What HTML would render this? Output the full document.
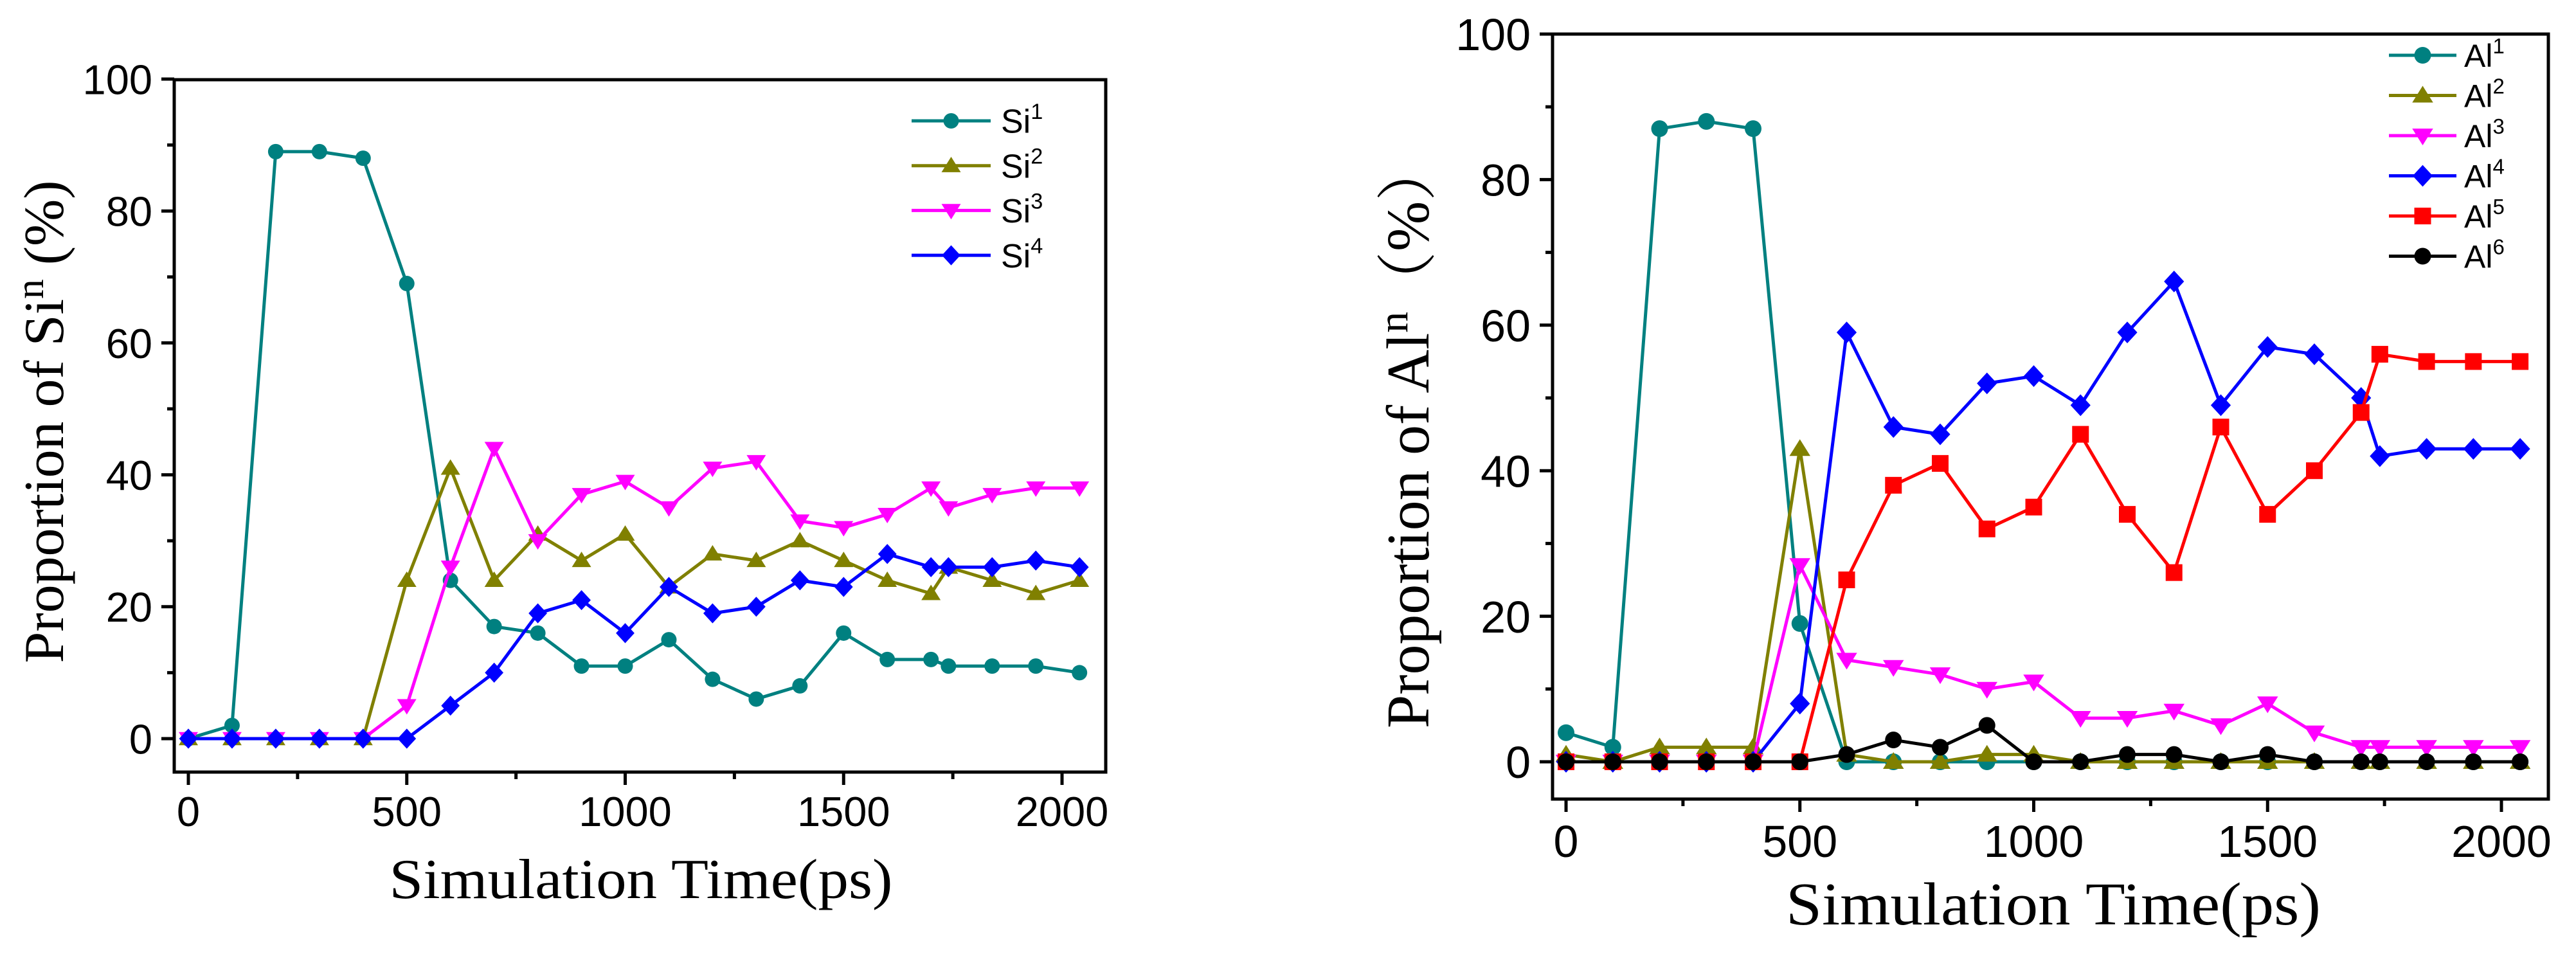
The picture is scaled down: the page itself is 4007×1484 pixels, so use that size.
<!DOCTYPE html>
<html><head><meta charset="utf-8"><style>
html,body{margin:0;padding:0;background:#fff;}
svg{display:block;}
</style></head><body>
<svg id="chart" width="4007" height="1484" viewBox="0 0 4007 1484" xmlns="http://www.w3.org/2000/svg">
<rect width="4007" height="1484" fill="#fff"/>
<g id="left"></g>
<g id="right"></g>
</svg>
<script>
const timeValues = [0,100,200,300,400,500,600,700,800,900,1000,1100,1200,1300,1400,1500,1600,1700,1740,1840,1940,2040];
const si1 = [0,2,89,89,88,69,24,17,16,11,11,15,9,6,8,16,12,12,11,11,11,10];
const si2 = [0,0,0,0,0,24,41,24,31,27,31,23,28,27,30,27,24,22,26,24,22,24];
const si3 = [0,0,0,0,0,5,26,44,30,37,39,35,41,42,33,32,34,38,35,37,38,38];
const si4 = [0,0,0,0,0,0,5,10,19,21,16,23,19,20,24,23,28,26,26,26,27,26];
const al1 = [4,2,87,88,87,19,0,0,0,0,0,0,0,0,0,0,0,0,0,0,0,0];
const al2 = [1,0,2,2,2,43,1,0,0,1,1,0,0,0,0,0,0,0,0,0,0,0];
const al3 = [0,0,0,0,0,27,14,13,12,10,11,6,6,7,5,8,4,2,2,2,2,2];
const al4 = [0,0,0,0,0,8,59,46,45,52,53,49,59,66,49,57,56,50,42,43,43,43];
const al5 = [0,0,0,0,0,0,25,38,41,32,35,45,34,26,46,34,40,48,56,55,55,55];
const al6 = [0,0,0,0,0,0,1,3,2,5,0,0,1,1,0,1,0,0,0,0,0,0];
const xTicks = [0,500,1000,1500,2000];
const xMinor = [250,750,1250,1750];
const yTicks = [0,20,40,60,80,100];
const yMinor = [10,30,50,70,90];

const NS='http://www.w3.org/2000/svg';
function mk(tag, attrs, parent){
  const e=document.createElementNS(NS,tag);
  for(const k in attrs) e.setAttribute(k,attrs[k]);
  parent.appendChild(e); return e;
}
function marker(g, type, cx, cy, s, color){
  let e;
  if(type==='circle') e=mk('circle',{cx:cx,cy:cy,r:s,fill:color},g);
  else if(type==='up') e=mk('polygon',{points:`${cx},${cy-s*1.15} ${cx-s*1.25},${cy+s*0.85} ${cx+s*1.25},${cy+s*0.85}`,fill:color},g);
  else if(type==='down') e=mk('polygon',{points:`${cx},${cy+s*1.15} ${cx-s*1.25},${cy-s*0.85} ${cx+s*1.25},${cy-s*0.85}`,fill:color},g);
  else if(type==='diamond') e=mk('polygon',{points:`${cx},${cy-s*1.3} ${cx+s*1.2},${cy} ${cx},${cy+s*1.3} ${cx-s*1.2},${cy}`,fill:color},g);
  else e=mk('rect',{x:cx-s,y:cy-s,width:2*s,height:2*s,fill:color},g);
  return e;
}
function drawChart(g, cfg){
  const X=v=>cfg.x0+(v/2000)*(cfg.x2000-cfg.x0);
  const Y=v=>cfg.y0-(v/100)*(cfg.y0-cfg.y100);
  const fr=mk('rect',{x:cfg.left,y:cfg.top,width:cfg.right-cfg.left,height:cfg.bottom-cfg.top,fill:'none',stroke:'#000','stroke-width':5},g);
  
  
  yTicks.forEach(v=>{
    const t=mk('line',{x1:cfg.left-20,x2:cfg.left,y1:Y(v),y2:Y(v),stroke:'#000','stroke-width':5},g);
    
    
    const l=mk('text',{x:cfg.left-34,y:Y(v)+cfg.tf*0.36,'text-anchor':'end','font-size':cfg.tf,'font-family':'Liberation Sans, sans-serif'},g);
    l.textContent=v;
    
    
  });
  yMinor.forEach(v=>{
    const t=mk('line',{x1:cfg.left-11,x2:cfg.left,y1:Y(v),y2:Y(v),stroke:'#000','stroke-width':5},g);
    
    
  });
  xTicks.forEach(v=>{
    const t=mk('line',{x1:X(v),x2:X(v),y1:cfg.bottom,y2:cfg.bottom+20,stroke:'#000','stroke-width':5},g);
    
    
    const l=mk('text',{x:X(v),y:cfg.xlabY,'text-anchor':'middle','font-size':cfg.tf,'font-family':'Liberation Sans, sans-serif'},g);
    l.textContent=v;
    
    
  });
  xMinor.forEach(v=>{
    const t=mk('line',{x1:X(v),x2:X(v),y1:cfg.bottom,y2:cfg.bottom+11,stroke:'#000','stroke-width':5},g);
    
    
  });
  cfg.series.forEach((s,i)=>{
    const sg=mk('g',{},g);
    
    
    const pts=timeValues.map((t,j)=>X(t)+','+Y(s.data[j])).join(' ');
    mk('polyline',{points:pts,fill:'none',stroke:s.color,'stroke-width':5,'stroke-linejoin':'round'},sg);
    timeValues.forEach((t,j)=>{
      const m=marker(sg,s.type,X(t),Y(s.data[j]),cfg.ms,s.color);
      
      
    });
    const ly=cfg.legY0+i*cfg.legDy;
    const lg=mk('g',{},g);
    
    
    mk('line',{x1:cfg.legX1,x2:cfg.legX2,y1:ly,y2:ly,stroke:s.color,'stroke-width':5},lg);
    marker(lg,s.type,(cfg.legX1+cfg.legX2)/2,ly,cfg.ms,s.color);
    const tx=mk('text',{x:cfg.legTX,y:ly+cfg.lf*0.36,'font-size':cfg.lf,'font-family':'Liberation Sans, sans-serif'},lg);
    tx.textContent=s.name;
    const sup=mk('tspan',{'font-size':cfg.lf*0.66,dy:-cfg.lf*0.42},tx);
    sup.textContent=s.sup;
  });
  const xt=mk('text',{x:cfg.xtX,y:cfg.xtY,'text-anchor':'middle','font-size':cfg.titleF,'font-family':'Liberation Serif, serif',textLength:cfg.xtLen,lengthAdjust:'spacingAndGlyphs'},g);
  xt.textContent='Simulation Time(ps)';
  
  
  const yt=mk('text',{x:0,y:0,'text-anchor':'middle','font-size':cfg.titleF,'font-family':'Liberation Serif, Noto Serif CJK SC, serif',transform:`translate(${cfg.ytX},${cfg.ytY}) rotate(-90)`,textLength:cfg.ytLen,lengthAdjust:'spacingAndGlyphs'},g);
  
  
  yt.appendChild(document.createTextNode(cfg.ytA));
  const ys=mk('tspan',{'font-size':cfg.titleF*0.7,dy:-cfg.titleF*0.35},yt); ys.textContent='n';
  const yr=mk('tspan',{dy:cfg.titleF*0.35},yt); yr.textContent=cfg.ytB;
}
drawChart(document.getElementById('left'),{
  left:271,right:1720,top:124,bottom:1201,x0:293,x2000:1652,y0:1149,y100:123,
  tf:65,xlabY:1285,ms:12,
  legX1:1418,legX2:1541,legTX:1557,legY0:188,legDy:69.7,lf:52,
  titleF:88,xtX:997,xtY:1397,xtLen:783,ytX:98,ytY:656,ytLen:751,ytA:'Proportion of Si',ytB:' (%)',
  series:[
    {name:'Si',sup:'1',data:si1,color:'#008080',type:'circle'},
    {name:'Si',sup:'2',data:si2,color:'#808000',type:'up'},
    {name:'Si',sup:'3',data:si3,color:'#FF00FF',type:'down'},
    {name:'Si',sup:'4',data:si4,color:'#0000FF',type:'diamond'}
  ]
});
drawChart(document.getElementById('right'),{
  left:2415,right:3964,top:53,bottom:1243,x0:2436,x2000:3891,y0:1185,y100:53,
  tf:70,xlabY:1333,ms:13,
  legX1:3716,legX2:3821,legTX:3833,legY0:86,legDy:62.5,lf:50,
  titleF:94,xtX:3194,xtY:1438,xtLen:832,ytX:2222,ytY:676,ytLen:914,ytA:'Proportion of Al',ytB:'（%）',
  series:[
    {name:'Al',sup:'1',data:al1,color:'#008080',type:'circle'},
    {name:'Al',sup:'2',data:al2,color:'#808000',type:'up'},
    {name:'Al',sup:'3',data:al3,color:'#FF00FF',type:'down'},
    {name:'Al',sup:'4',data:al4,color:'#0000FF',type:'diamond'},
    {name:'Al',sup:'5',data:al5,color:'#FF0000',type:'square'},
    {name:'Al',sup:'6',data:al6,color:'#000000',type:'circle'}
  ]
});
</script>
</body></html>
